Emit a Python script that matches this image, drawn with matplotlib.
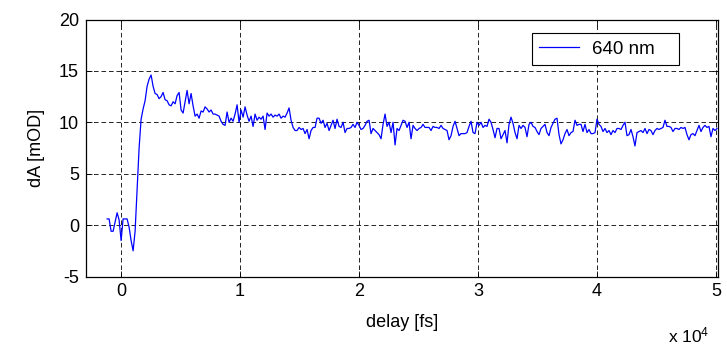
import numpy as np
import matplotlib
matplotlib.use('Agg')
import matplotlib.pyplot as plt

plt.rcParams['font.family'] = ['Liberation Sans', 'DejaVu Sans']
plt.rcParams['mathtext.default'] = 'regular'
plt.rcParams['axes.unicode_minus'] = False

# delay grid (fs) of the scan, evenly sampled
delay_start, delay_stop = -1176, 50084

# dA values [mOD], in delay order
dA = [
    # -1.2e4 .. 0.57e4 fs
    0.6, 0.6, -0.6, -0.6, 0.3, 1.2, 0.5, -1.5, 0.6, 0.6,
    0.6, -0.2, -1.5, -2.5, -0.6, 3.5, 7.5, 10.3, 11.3, 12.1,
    13.5, 14.2, 14.6, 13.5, 12.8, 12.7, 12.3, 12.5, 12.9, 12.2,
    12.1, 11.7, 11.6, 12.0, 11.8, 12.6, 12.9, 11.2, 10.9, 12.0,
    13.1, 11.8,
    # .. 1.33e4 fs
    12.8, 11.6, 10.6, 10.8, 10.4, 11.1, 11.0, 11.5, 11.3, 11.0,
    11.2, 10.8, 10.8, 10.7, 10.6, 10.1, 9.8, 9.7, 11.0, 10.0,
    10.4, 10.1, 10.8, 11.7, 10.0, 11.2, 10.5, 11.5, 10.7, 10.1,
    10.6, 9.6, 10.8, 10.2, 10.5, 10.3, 10.6, 9.3, 10.9, 10.6,
    10.8, 10.5, 10.7, 10.6, 10.8,
    # .. 2.09e4 fs
    10.4, 10.6, 10.5, 10.9, 11.4, 10.2, 9.5, 9.2, 9.2, 9.5,
    9.3, 9.4, 8.9, 9.3, 8.4, 9.2, 9.5, 9.5, 10.4, 10.4,
    9.9, 10.2, 9.5, 9.9, 9.2, 9.7, 10.2, 9.4, 10.3, 9.6,
    9.5, 10.0, 9.0, 9.4, 9.4, 9.5, 9.8, 9.5, 10.0, 9.7,
    9.3, 9.4, 9.7, 10.1, 10.2,
    # .. 2.84e4 fs
    8.9, 9.4, 9.2, 9.0, 8.8, 8.4, 9.8, 10.8, 9.6, 10.0,
    9.0, 10.0, 7.8, 9.4, 9.2, 9.7, 10.2, 10.1, 9.5, 10.0,
    8.4, 9.7, 9.4, 9.2, 9.4, 9.5, 9.8, 9.5, 9.5, 9.5,
    9.2, 9.6, 9.5, 9.5, 9.4, 9.7, 9.4, 9.3, 9.2, 8.3,
    8.7, 9.6, 10.1, 9.4, 8.7,
    # .. 3.60e4 fs
    8.9, 8.9, 8.9, 9.0, 9.6, 10.1, 9.0, 8.9, 10.0, 9.7,
    10.0, 9.5, 9.7, 9.6, 10.3, 10.0, 9.3, 8.5, 9.4, 9.4,
    8.4, 8.8, 9.2, 8.0, 9.8, 10.5, 9.9, 9.0, 8.4, 9.7,
    9.4, 9.7, 9.5, 8.6, 9.8, 10.0, 9.6, 9.5, 9.1, 8.8,
    9.4, 9.6, 9.8, 9.0, 8.7,
    # .. 4.35e4 fs
    9.5, 9.9, 10.3, 10.4, 8.8, 7.9, 8.3, 8.9, 9.3, 8.7,
    9.0, 9.1, 10.2, 9.7, 9.8, 9.8, 9.1, 9.8, 9.0, 9.3,
    8.9, 8.9, 9.0, 10.3, 9.8, 9.6, 9.1, 9.4, 9.0, 9.2,
    8.8, 9.2, 9.0, 9.4, 9.4, 9.3, 9.7, 10.0, 8.7, 8.8,
    9.3, 8.6, 7.7, 9.0, 9.1,
    # .. 5.0e4 fs
    9.2, 9.0, 9.4, 8.9, 9.3, 9.2, 8.8, 9.2, 9.4, 9.3,
    9.4, 9.5, 10.2, 9.6, 9.6, 9.5, 9.1, 9.4, 9.4, 9.3,
    9.5, 9.4, 9.5, 8.8, 8.3, 8.8, 8.9, 8.7, 9.2, 9.7,
    9.1, 9.5, 9.7, 9.5, 9.6, 8.6, 9.4, 9.2, 9.4,
]
delay = np.linspace(delay_start, delay_stop, len(dA))

xticks = [0, 10000, 20000, 30000, 40000, 50000]
xticklabels = ['0', '1', '2', '3', '4', '5']
yticks = [-5, 0, 5, 10, 15, 20]

fs = 13
fig = plt.figure(figsize=(7.27, 3.47), dpi=100)
ax = fig.add_axes([86/727, 1 - 276.5/347, 632/727, 257/347])

ax.plot(delay, dA, color='#0000ff', lw=0.9, label='640 nm')

ax.set_xlim(-2950, 50170)
ax.set_ylim(-5, 20)
ax.set_xticks(xticks)
ax.set_xticklabels(xticklabels)
ax.set_yticks(yticks)
ax.tick_params(direction='in', top=True, right=True, length=4, width=0.6,
               labelsize=fs, pad=5, colors='black')
ax.grid(True, color='black', lw=0.6, linestyle=(0, (5.5, 3.5)))
for s in ax.spines.values():
    s.set_linewidth(0.9)

ax.set_xlabel('delay [fs]', fontsize=fs, labelpad=10)
ax.set_ylabel('dA [mOD]', fontsize=fs, labelpad=10)
fig.text(668/727, 1 - 342/347, r'x 10$^4$', fontsize=12.5, ha='left', va='baseline')

# legend box stretched to the reference frame (MATLAB style)
leg = ax.legend(loc='upper left', bbox_to_anchor=(0.705, 0.816, 0.233, 0.133),
                mode='expand', borderaxespad=0, fancybox=False, framealpha=1,
                edgecolor='black', fontsize=13.5, handlelength=2.1,
                handletextpad=0.7, borderpad=0.42)
leg.get_frame().set_linewidth(0.8)

fig.savefig('out.png', dpi=100)
